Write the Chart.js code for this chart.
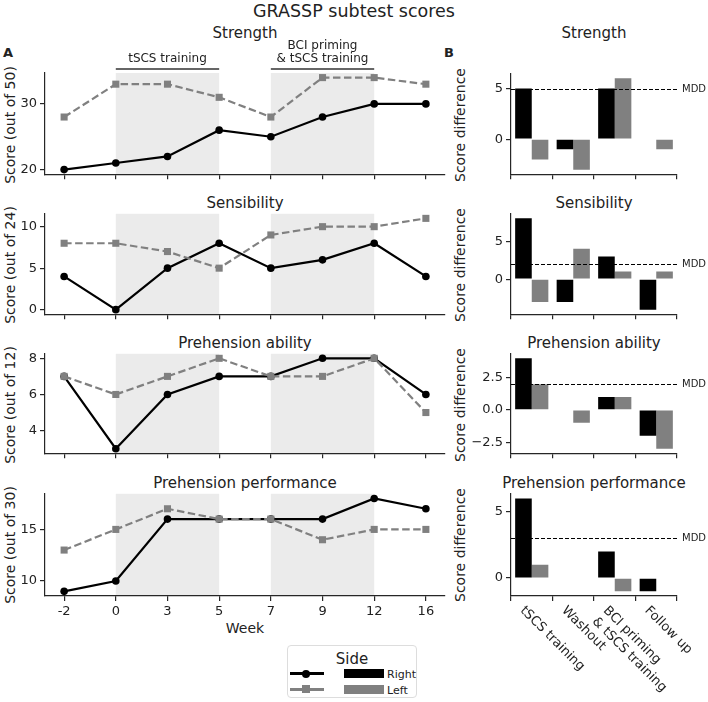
<!DOCTYPE html>
<html>
<head>
<meta charset="utf-8">
<script src="https://cdn.jsdelivr.net/npm/chart.js@4"></script>
<style>
  body { margin: 0; background: #fff; }
  #page { position: relative; width: 708px; height: 702px; overflow: hidden; font-family: "DejaVu Sans", sans-serif; color: #222; }
  #page canvas { position: absolute; }
  .lbl { position: absolute; white-space: nowrap; transform: translate(-50%, -50%); line-height: 1; }
  .ylbl { position: absolute; white-space: nowrap; transform: translate(-50%, -50%) rotate(-90deg); line-height: 1; font-size: 14px; }
  #legend { position: absolute; left: 287px; top: 645px; width: 130px; height: 53px; border: 1px solid #ddd; border-radius: 4px; box-sizing: border-box; }
  #legend div { position: absolute; }
</style>
</head>
<body>
<div id="page"></div>
<script>
// Week labels of panel A and training phases of panel B
const weeks = ['-2', '0', '3', '5', '7', '9', '12', '16'];
const shadedWeeks = [['0', '5'], ['7', '12']];
const phases = ['tSCS training', 'Washout', ['BCI priming', '& tSCS training'], 'Follow up'];
const phaseBars = [['0', '5', ['tSCS training']], ['7', '12', ['BCI priming', '& tSCS training']]];

// Panel A scores
const strengthRight = [20, 21, 22, 26, 25, 28, 30, 30];
const strengthLeft = [28, 33, 33, 31, 28, 34, 34, 33];
const sensibilityRight = [4, 0, 5, 8, 5, 6, 8, 4];
const sensibilityLeft = [8, 8, 7, 5, 9, 10, 10, 11];
const abilityRight = [7, 3, 6, 7, 7, 8, 8, 6];
const abilityLeft = [7, 6, 7, 8, 7, 7, 8, 5];
const performanceRight = [9, 10, 16, 16, 16, 16, 18, 17];
const performanceLeft = [13, 15, 17, 16, 16, 14, 15, 15];

// Panel B score differences
const strengthDiffRight = [5, -1, 5, 0];
const strengthDiffLeft = [-2, -3, 6, -1];
const sensibilityDiffRight = [8, -3, 3, -4];
const sensibilityDiffLeft = [-3, 4, 1, 1];
const abilityDiffRight = [4, 0, 1, -2];
const abilityDiffLeft = [2, -1, 1, -3];
const performanceDiffRight = [6, 0, 2, -1];
const performanceDiffLeft = [1, 0, -1, 0];
const mdd = [5, 2, 2, 3];

// Tick values
const scoreTicks = [[20, 30], [0, 5, 10], [4, 6, 8], [10, 15]];
const diffTicks = [[0, 5], [0, 5], [-2.5, 0, 2.5], [0, 5]];

const subtests = ['Strength', 'Sensibility', 'Prehension ability', 'Prehension performance'];
const maxScores = [50, 24, 12, 30];

const axisColor = '#262626';
const RIGHT_COLOR = '#000000';
const LEFT_COLOR = '#808080';

Chart.defaults.font.family = '"DejaVu Sans", sans-serif';
Chart.defaults.font.size = 13;
Chart.defaults.color = '#222';

const page = document.getElementById('page');

function addText(text, x, y, size, extra) {
    const d = document.createElement('div');
    d.className = 'lbl';
    d.textContent = text;
    d.style.left = x + 'px';
    d.style.top = y + 'px';
    d.style.fontSize = size + 'px';
    if (extra) Object.assign(d.style, extra);
    page.appendChild(d);
    return d;
}

function addYTitle(text, x, y) {
    const d = document.createElement('div');
    d.className = 'ylbl';
    d.textContent = text;
    d.style.left = x + 'px';
    d.style.top = y + 'px';
    page.appendChild(d);
}

function addCanvas(left, top, w, h) {
    const c = document.createElement('canvas');
    c.width = w;
    c.height = h;
    c.style.left = left + 'px';
    c.style.top = top + 'px';
    c.style.width = w + 'px';
    c.style.height = h + 'px';
    page.appendChild(c);
    return c;
}

// plot areas (top, bottom) of the four rows
const rows = [[73, 177], [213, 317], [353, 456], [493, 596]];
const scoreRanges = [[19.3, 34.7], [-0.55, 11.55], [2.75, 8.25], [8.55, 18.45]];
const diffRanges = [[-3.45, 6.45], [-4.6, 8.6], [-3.35, 4.35], [-1.35, 6.35]];
const scoreData = [[strengthRight, strengthLeft], [sensibilityRight, sensibilityLeft], [abilityRight, abilityLeft], [performanceRight, performanceLeft]];
const diffData = [[strengthDiffRight, strengthDiffLeft], [sensibilityDiffRight, sensibilityDiffLeft], [abilityDiffRight, abilityDiffLeft], [performanceDiffRight, performanceDiffLeft]];

function axisStyle() {
    return {
        border: { display: true, color: axisColor, width: 1.2 },
        grid: { drawOnChartArea: false, drawTicks: true, tickLength: 5, color: axisColor, lineWidth: 1.2 }
    };
}

// shaded training periods
const shadePlugin = {
    id: 'shade',
    beforeDraw(chart) {
        const { ctx, chartArea } = chart;
        const xs = chart.scales.x;
        ctx.save();
        ctx.fillStyle = '#ebebeb';
        shadedWeeks.forEach(([a, b]) => {
            const x1 = xs.getPixelForValue(weeks.indexOf(a));
            const x2 = xs.getPixelForValue(weeks.indexOf(b));
            ctx.fillRect(x1, chartArea.top, x2 - x1, chartArea.bottom - chartArea.top);
        });
        ctx.restore();
    }
};

// phase brackets above the first row
const phaseBarPlugin = {
    id: 'phaseBars',
    afterDraw(chart) {
        const { ctx, chartArea } = chart;
        const xs = chart.scales.x;
        ctx.save();
        ctx.strokeStyle = '#333';
        ctx.lineWidth = 1.5;
        ctx.fillStyle = '#222';
        ctx.font = '12px "DejaVu Sans"';
        ctx.textAlign = 'center';
        ctx.textBaseline = 'middle';
        phaseBars.forEach(([a, b, lines]) => {
            const x1 = xs.getPixelForValue(weeks.indexOf(a));
            const x2 = xs.getPixelForValue(weeks.indexOf(b));
            const y = chartArea.top - 4;
            ctx.beginPath();
            ctx.moveTo(x1, y);
            ctx.lineTo(x2, y);
            ctx.stroke();
            lines.forEach((t, i) => {
                ctx.fillText(t, (x1 + x2) / 2, y - 10 - (lines.length - 1 - i) * 13.5);
            });
        });
        ctx.restore();
    }
};

function makeLineChart(row) {
    const [top, bottom] = rows[row];
    const last = row === rows.length - 1;
    const padTop = row === 0 ? 36 : 10;
    const xH = last ? 25 : 8;
    const canvas = addCanvas(0, top - padTop, 450, bottom - top + padTop + xH);
    const [right, left] = scoreData[row];
    const plugins = [shadePlugin];
    if (row === 0) plugins.push(phaseBarPlugin);
    new Chart(canvas, {
        type: 'line',
        data: {
            datasets: [
                {
                    label: 'Left',
                    data: left.map((v, i) => ({ x: i, y: v })),
                    borderColor: LEFT_COLOR, backgroundColor: LEFT_COLOR,
                    borderWidth: 2.2, borderDash: [7.5, 3.5],
                    pointStyle: 'rect', pointRadius: 5, pointBorderWidth: 0,
                    tension: 0, clip: false
                },
                {
                    label: 'Right',
                    data: right.map((v, i) => ({ x: i, y: v })),
                    borderColor: RIGHT_COLOR, backgroundColor: RIGHT_COLOR,
                    borderWidth: 2.2,
                    pointStyle: 'circle', pointRadius: 3.8, pointBorderWidth: 0,
                    tension: 0, clip: false
                }
            ]
        },
        options: {
            responsive: false, animation: false, devicePixelRatio: 1,
            layout: { padding: { top: padTop, right: 5, left: 0, bottom: 0 } },
            plugins: { legend: { display: false }, tooltip: { enabled: false } },
            scales: {
                x: Object.assign(axisStyle(), {
                    type: 'linear', min: -0.37, max: weeks.length - 1 + 0.37,
                    afterBuildTicks: s => { s.ticks = weeks.map((w, i) => ({ value: i })); },
                    afterFit: s => { s.height = xH; },
                    ticks: { padding: 3, maxRotation: 0, autoSkip: false, callback: v => last ? weeks[v] : '' }
                }),
                y: Object.assign(axisStyle(), {
                    min: scoreRanges[row][0], max: scoreRanges[row][1],
                    afterBuildTicks: s => { s.ticks = scoreTicks[row].map(v => ({ value: v })); },
                    afterFit: s => { s.width = 45; },
                    ticks: { padding: 3, callback: v => String(v) }
                })
            }
        },
        plugins: plugins
    });
}

// minimal detectable difference line
const mddPlugin = {
    id: 'mdd',
    afterDatasetsDraw(chart, args, opts) {
        const { ctx, chartArea } = chart;
        const y = Math.round(chart.scales.y.getPixelForValue(opts.value)) + 0.5;
        ctx.save();
        ctx.strokeStyle = '#000';
        ctx.lineWidth = 1;
        ctx.setLineDash([4, 2]);
        ctx.beginPath();
        ctx.moveTo(chartArea.left, y);
        ctx.lineTo(chartArea.right + 2, y);
        ctx.stroke();
        ctx.setLineDash([]);
        ctx.fillStyle = '#222';
        ctx.font = '10px "DejaVu Sans"';
        ctx.textAlign = 'left';
        ctx.textBaseline = 'middle';
        ctx.fillText('MDD', chartArea.right + 5, y);
        ctx.restore();
    }
};

// rotated phase labels under the last bar chart
const phaseLabelPlugin = {
    id: 'phaseLabels',
    afterDraw(chart) {
        const { ctx, chartArea } = chart;
        const xs = chart.scales.x;
        ctx.save();
        ctx.fillStyle = '#222';
        ctx.font = '13px "DejaVu Sans"';
        ctx.textAlign = 'left';
        ctx.textBaseline = 'top';
        phases.forEach((p, i) => {
            const lines = Array.isArray(p) ? p : [p];
            ctx.save();
            ctx.translate(xs.getPixelForTick(i) - 5, chartArea.bottom + 8);
            ctx.rotate(Math.PI / 4);
            lines.forEach((t, j) => ctx.fillText(t, 0, j * 15.5));
            ctx.restore();
        });
        ctx.restore();
    }
};

function makeBarChart(row) {
    const [top, bottom] = rows[row];
    const last = row === rows.length - 1;
    const padTop = 10;
    const xH = last ? 110 : 8;
    const cx = 470;
    const canvas = addCanvas(cx, top - padTop, 238, bottom - top + padTop + xH);
    const [right, left] = diffData[row];
    const plugins = [mddPlugin];
    if (last) plugins.push(phaseLabelPlugin);
    new Chart(canvas, {
        type: 'bar',
        data: {
            labels: phases.map(p => Array.isArray(p) ? p.join(' ') : p),
            datasets: [
                { label: 'Right', data: right, backgroundColor: RIGHT_COLOR, borderWidth: 0 },
                { label: 'Left', data: left, backgroundColor: LEFT_COLOR, borderWidth: 0 }
            ]
        },
        options: {
            responsive: false, animation: false, devicePixelRatio: 1,
            layout: { padding: { top: padTop, right: 238 - (677 - cx), left: 0, bottom: 0 } },
            datasets: { bar: { categoryPercentage: 0.8, barPercentage: 1.0 } },
            plugins: { legend: { display: false }, tooltip: { enabled: false }, mdd: { value: mdd[row] } },
            scales: {
                x: Object.assign(axisStyle(), {
                    afterFit: s => { s.height = xH; },
                    ticks: { callback: () => '' }
                }),
                y: Object.assign(axisStyle(), {
                    min: diffRanges[row][0], max: diffRanges[row][1],
                    afterBuildTicks: s => { s.ticks = diffTicks[row].map(v => ({ value: v })); },
                    afterFit: s => { s.width = 511 - cx; },
                    ticks: {
                        padding: 3,
                        callback: v => (row === 2 ? v.toFixed(1) : String(v)).replace('-', '\u2212')
                    }
                })
            }
        },
        plugins: plugins
    });
}

// titles and axis labels
addText('GRASSP subtest scores', 354, 12, 17.5);
addText('A', 8, 52, 13, { fontWeight: 'bold' });
addText('B', 449, 52, 13, { fontWeight: 'bold' });
rows.forEach(([top, bottom], i) => {
    addText(subtests[i], 245, top - 40 + (i === 0 ? 0 : 30), 15);
    addText(subtests[i], 594, top - 40 + (i === 0 ? 0 : 30), 15);
    addYTitle('Score (out of ' + maxScores[i] + ')', 10, (top + bottom) / 2);
    addYTitle('Score difference', 460, (top + bottom) / 2);
});
addText('Week', 245, 628, 14);

for (let r = 0; r < rows.length; r++) {
    makeLineChart(r);
    makeBarChart(r);
}

// legend box
const legend = document.createElement('div');
legend.id = 'legend';
legend.innerHTML =
    '<div style="left:0;width:128px;top:4px;text-align:center;font-size:15px">Side</div>' +
    '<div style="left:2px;top:26px;width:34px;height:2.5px;background:#000"></div>' +
    '<div style="left:14px;top:23.5px;width:8px;height:8px;border-radius:50%;background:#000"></div>' +
    '<div style="left:2px;top:42px;width:34px;height:2.5px;background:#808080"></div>' +
    '<div style="left:14px;top:39px;width:8px;height:8px;background:#808080"></div>' +
    '<div style="left:56px;top:23px;width:40px;height:9px;background:#000"></div>' +
    '<div style="left:56px;top:39px;width:40px;height:9px;background:#808080"></div>' +
    '<div style="left:99px;top:22px;font-size:11px">Right</div>' +
    '<div style="left:99px;top:38px;font-size:11px">Left</div>';
page.appendChild(legend);
</script>
</body>
</html>
